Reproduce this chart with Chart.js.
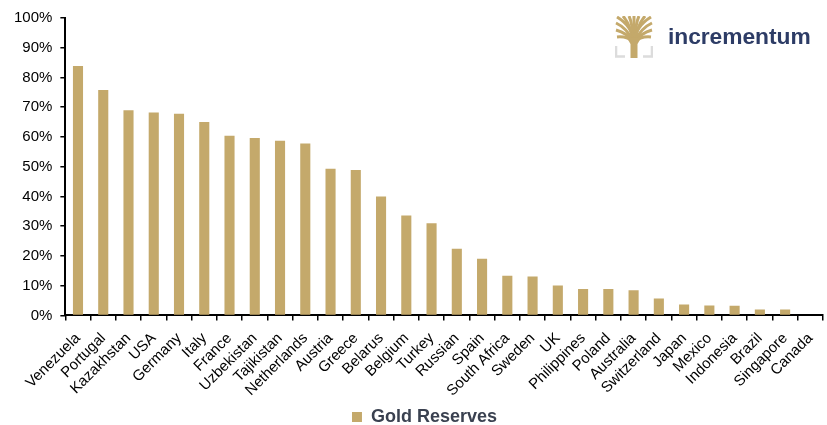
<!DOCTYPE html>
<html>
<head>
<meta charset="utf-8">
<script src="https://cdn.jsdelivr.net/npm/chart.js@4/dist/chart.umd.min.js"></script>
<style>
  html, body { margin: 0; padding: 0; background: #fff; }
  #wrap { position: relative; width: 827px; height: 425px; }
  #logo { position: absolute; left: 615px; top: 16px; width: 210px; height: 44px; }
  #logo svg { position: absolute; left: 0; top: 0; }
  #logo span { position: absolute; left: 53px; top: 7px; font-family: "Liberation Sans", Arial, sans-serif; font-weight: bold; font-size: 22.8px; color: #2d3c66; letter-spacing: -0.05px; }
</style>
</head>
<body>
<div id="wrap">
  <canvas id="c" width="827" height="425"></canvas>
  <div id="logo">
    <svg width="38" height="42" viewBox="0 0 38 42">
      <path d="M1 30 V40.5 H10 M37 30 V40.5 H28" fill="none" stroke="#dcdcdc" stroke-width="2.6"/>
      <g stroke="#c4a96b" stroke-width="3" stroke-linecap="butt" fill="none">
        <path d="M19 26 Q17 10 2 1"/>
        <path d="M19 26 Q15 8 8 0"/>
        <path d="M19 26 Q17 6 14 0"/>
        <path d="M19 26 Q19 6 19 0"/>
        <path d="M19 26 Q21 6 24 0"/>
        <path d="M19 26 Q23 8 30 0"/>
        <path d="M19 26 Q21 10 36 1"/>
        <path d="M19 26 Q12 12 1 7"/>
        <path d="M19 26 Q26 12 37 7"/>
        <path d="M19 26 Q12 17 1 14"/>
        <path d="M19 26 Q26 17 37 14"/>
        <path d="M19 26 Q12 20 2 21"/>
        <path d="M19 26 Q26 20 36 21"/>
      </g>
      <path d="M9 17 Q19 27 29 17 L22.5 28 L22.5 42 H15.5 L15.5 28 Z" fill="#c4a96b"/>
    </svg>
    <span>incrementum</span>
  </div>
</div>
<script>
const categories = ["Venezuela","Portugal","Kazakhstan","USA","Germany","Italy","France","Uzbekistan","Tajikistan","Netherlands","Austria","Greece","Belarus","Belgium","Turkey","Russian","Spain","South Africa","Sweden","UK","Philippines","Poland","Australia","Switzerland","Japan","Mexico","Indonesia","Brazil","Singapore","Canada"];
const goldReserves = [83.9,75.8,69.0,68.2,67.8,65.0,60.4,59.7,58.7,57.8,49.3,48.9,40.0,33.6,31.0,22.4,19.1,13.4,13.1,10.1,8.9,8.9,8.5,5.7,3.7,3.4,3.3,2.0,2.0,0];
const yTicks = [0,10,20,30,40,50,60,70,80,90,100];
const seriesName = "Gold Reserves";

const FONT = '"Liberation Sans", Arial, sans-serif';
const shiftLegend = {
  id: 'shiftLegend',
  afterLayout(chart) {
    const lg = chart.legend;
    if (lg) { lg.left += 10; lg.right += 10; lg.top -= 7; lg.bottom -= 7; }
  }
};
new Chart(document.getElementById('c'), {
  type: 'bar',
  data: {
    labels: categories,
    datasets: [{
      label: seriesName,
      data: goldReserves,
      backgroundColor: '#c4a96b',
      borderWidth: 0,
      barPercentage: 0.4,
      categoryPercentage: 1.0
    }]
  },
  plugins: [shiftLegend],
  options: {
    responsive: false,
    animation: false,
    devicePixelRatio: 1,
    layout: { padding: { left: 6, right: 4, top: 18, bottom: -18 } },
    plugins: {
      tooltip: { enabled: false },
      legend: {
        position: 'bottom',
        labels: {
          boxWidth: 10, boxHeight: 10,
          color: '#3a4150',
          font: { family: FONT, size: 18, weight: 'bold' },
          padding: 6
        }
      }
    },
    scales: {
      x: {
        afterFit: (s) => { s.paddingRight = 0; },
        grid: { display: true, drawOnChartArea: false, drawTicks: true, tickLength: 5, color: '#000', lineWidth: 1.5, offset: true },
        border: { display: true, color: '#000', width: 2 },
        ticks: { color: '#000', font: { family: FONT, size: 15 }, maxRotation: 45, minRotation: 45, autoSkip: false, padding: 9 }
      },
      y: {
        min: 0, max: 100,
        afterFit: (s) => { s.paddingTop = 0; },
        afterBuildTicks: (s) => { s.ticks = yTicks.map(v => ({ value: v })); },
        grid: { display: true, drawOnChartArea: false, drawTicks: true, tickLength: 5, color: '#000', lineWidth: 1.5 },
        border: { display: true, color: '#000', width: 2 },
        ticks: { color: '#000', font: { family: FONT, size: 15 }, padding: 8, callback: (v) => v + '%' }
      }
    }
  }
});
</script>
</body>
</html>
